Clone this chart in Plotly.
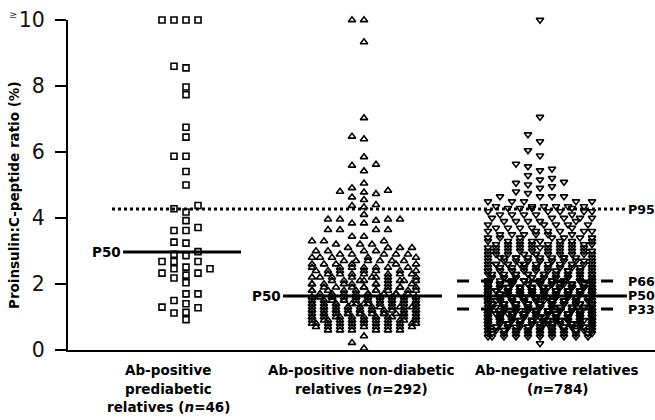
import plotly.graph_objects as go

# ---------------- data ----------------
categories = [
    ["Ab-positive", "prediabetic", "relatives (<i>n</i>=46)"],
    ["Ab-positive non-diabetic", "relatives (<i>n</i>=292)"],
    ["Ab-negative relatives", "(<i>n</i>=784)"],
]

# group 1: individual values (values >= 10 shown at 10)
g1_values = [10, 10, 10, 10, 8.6, 8.55, 7.97, 7.74, 6.75, 6.45, 5.87, 5.87,
             5.41, 5.0, 4.38, 4.28, 4.18, 3.92, 3.71, 3.62, 3.62, 3.27, 3.24,
             2.98, 2.90, 2.86, 2.68, 2.68, 2.68, 2.51, 2.46, 2.46, 2.33, 2.33,
             2.27, 2.18, 2.04, 1.70, 1.70, 1.50, 1.40, 1.30, 1.28, 1.12, 1.14,
             0.92]

# group 2: value levels and number of subjects at each level
g2_levels = [10.0, 9.33, 7.03, 6.47, 6.39, 5.85, 5.62, 5.59, 5.42, 5.05, 4.91,
             4.83, 4.80, 4.78, 4.73, 4.63, 4.55, 4.40, 4.37, 4.33, 4.10, 3.96,
             3.92, 3.84, 3.64, 3.44,
             3.3, 3.2, 3.1, 3.0, 2.9, 2.8, 2.7, 2.6, 2.5, 2.4, 2.3, 2.2, 2.1,
             2.0, 1.9, 1.8, 1.7, 1.6, 1.5, 1.4, 1.3, 1.2, 1.1, 1.0, 0.9, 0.8,
             0.7, 0.6, 0.42, 0.22, 0.05]
g2_counts = [2, 1, 1, 1, 1, 1, 1, 1, 1, 1, 1,
             1, 1, 1, 1, 1, 1, 1, 1, 1, 1, 4,
             1, 2, 4, 2,
             3, 3, 4, 4, 5, 5, 6, 6, 7, 7, 7, 8, 8,
             9, 9, 10, 10, 15, 15, 15, 15, 15, 15, 14, 13, 11,
             9, 6, 1, 1, 1]

# group 3: value levels and number of subjects at each level
g3_levels = [10.0, 7.06, 6.53, 6.32, 6.05, 5.89, 5.64, 5.56, 5.49, 5.44, 5.29,
             5.21, 5.16, 5.09, 5.06, 5.01, 4.96, 4.91, 4.80, 4.75, 4.65, 4.50,
             4.35, 4.30,
             4.2, 4.1, 4.0, 3.9, 3.8, 3.7, 3.6, 3.5, 3.4, 3.3, 3.2, 3.1, 3.0,
             2.9, 2.8, 2.7, 2.6, 2.5, 2.4, 2.3, 2.2, 2.1, 2.0, 1.9, 1.8, 1.7,
             1.6, 1.5, 1.4, 1.3, 1.2, 1.1, 1.0, 0.9, 0.8, 0.7, 0.6, 0.5, 0.4,
             0.2]
g3_counts = [1, 1, 1, 1, 1, 1, 1, 1, 1, 1, 1,
             1, 1, 1, 1, 1, 1, 1, 1, 1, 4, 5,
             6, 4,
             5, 5, 5, 5, 5, 5, 6, 6, 7, 8, 9, 10, 10,
             11, 12, 13, 14, 15, 16, 17, 18, 19, 30, 31, 32, 33,
             32, 33, 34, 34, 34, 36, 36, 36, 34, 30, 24, 18, 10,
             1]

# percentile lines
p50_values = [2.97, 1.64, 1.64]
p95_value = 4.27
p66_value = 2.09
p33_value = 1.24

# ---------------- layout geometry (pixels) ----------------
W, H = 655, 420
ML, MR, MT, MB = 68, 0, 20, 70
PW, PH = W - ML - MR, H - MT - MB
YMAX = 10.0
PPU = PH / YMAX
centers = [186, 364, 540]


def expand(levels, counts):
    out = []
    for v, c in zip(levels, counts):
        out += [v] * c
    return out


def swarm(vals, center, step=6.0, maxk=9, dxm=11.0, dym=7.0):
    placed = []
    res = [0.0] * len(vals)
    cand = sorted(range(-maxk, maxk + 1), key=lambda k: (abs(k), k))
    order = sorted(range(len(vals)), key=lambda i: vals[i])
    for i in order:
        y = vals[i] * PPU
        near = [(px, py) for px, py in placed if abs(py - y) < dym]
        best = None
        for k in cand:
            x = center + k * step
            if all(abs(px - x) >= dxm for px, py in near):
                best = x
                break
        if best is None:
            def penalty(k):
                x = center + k * step
                s = 0.0
                for px, py in near:
                    d = ((px - x) / dxm) ** 2 + ((py - y) / dym) ** 2
                    if d < 1:
                        s += 1 - d
                return s + 1e-3 * abs(k)
            best = center + min(cand, key=penalty) * step
        placed.append((best, y))
        res[i] = best
    return res


g2_values = expand(g2_levels, g2_counts)
g3_values = expand(g3_levels, g3_counts)

# (values, symbol, size, candidate step, number of steps each side)
groups = [
    (g1_values, "square-open", 6, 6.0, 5),
    (g2_values, "triangle-up-open", 6.5, 4.0, 13),
    (g3_values, "triangle-down-open", 6.5, 4.0, 13),
]

fig = go.Figure()
for (vals, sym, size, step, maxk), c in zip(groups, centers):
    xs = swarm(vals, c, step=step, maxk=maxk)
    fig.add_trace(go.Scatter(
        x=xs, y=vals, mode="markers", cliponaxis=False, hoverinfo="skip",
        marker=dict(symbol=sym, size=size, color="black",
                    line=dict(color="black", width=1.6)),
        showlegend=False))

BLK = "black"
shapes = []
p50_spans = [(123, 241), (283, 442), (457, 627)]
for (x0, x1), v in zip(p50_spans, p50_values):
    shapes.append(dict(type="line", xref="x", yref="y", x0=x0, x1=x1, y0=v, y1=v,
                       line=dict(color=BLK, width=3)))
shapes.append(dict(type="line", xref="x", yref="y", x0=112, x1=625,
                   y0=p95_value, y1=p95_value,
                   line=dict(color=BLK, width=3, dash="3px,3px")))
for v in (p66_value, p33_value):
    shapes.append(dict(type="line", xref="x", yref="y", x0=457, x1=615,
                       y0=v, y1=v, line=dict(color=BLK, width=3, dash="12px,12px")))

BOLD = "DejaVu Sans"
ann = []


def pxx(px):
    return (px - ML) / PW


def pxy(py):
    return (H - MB - py) / PH


# category labels, one annotation per line
label_x = [168, 361, 557]
line_y = [370, 388.5, 407]
for lines, x in zip(categories, label_x):
    for t, y in zip(lines, line_y):
        ann.append(dict(text="<b>" + t + "</b>", xref="paper", yref="paper",
                        x=pxx(x), y=pxy(y), xanchor="center", yanchor="middle",
                        showarrow=False, borderpad=0,
                        font=dict(family=BOLD, size=13.5, color=BLK)))
# percentile labels
for x, v in ((122, p50_values[0]), (282, p50_values[1])):
    ann.append(dict(text="<b>P50</b>", xref="x", yref="y", x=x, y=v,
                    xanchor="right", yanchor="middle", showarrow=False,
                    borderpad=0, font=dict(family=BOLD, size=13.5, color=BLK)))
for lab, v in (("P95", p95_value), ("P66", p66_value), ("P50", p50_values[2]),
               ("P33", p33_value)):
    ann.append(dict(text="<b>" + lab + "</b>", xref="paper", yref="y", x=1.0, y=v,
                    xanchor="right", yanchor="middle", showarrow=False,
                    borderpad=0, xshift=1,
                    font=dict(family=BOLD, size=12.6, color=BLK)))
# axis title
ann.append(dict(text="<b>Proinsulin:C-peptide ratio (%)</b>", xref="paper",
                yref="paper", x=pxx(14), y=pxy(195), textangle=-90,
                xanchor="center", yanchor="middle", showarrow=False,
                borderpad=0, font=dict(family=BOLD, size=13.5, color=BLK)))
# >= sign next to top tick
ann.append(dict(text="\u2265", xref="paper", yref="paper", x=pxx(13), y=pxy(14),
                xanchor="center", yanchor="middle", showarrow=False,
                font=dict(family="DejaVu Sans", size=10, color="#333")))

fig.update_layout(
    width=W, height=H, margin=dict(l=ML, r=MR, t=MT, b=MB),
    paper_bgcolor="white", plot_bgcolor="white",
    shapes=shapes, annotations=ann,
    xaxis=dict(range=[ML, W], showgrid=False, zeroline=False, showline=True,
               linecolor=BLK, linewidth=2, showticklabels=False, ticks=""),
    yaxis=dict(range=[0, YMAX], tickvals=[0, 2, 4, 6, 8, 10],
               ticktext=["0", "2", "4", "6", "8", "10"],
               showgrid=False, zeroline=False, showline=True, linecolor=BLK,
               linewidth=2, ticks="outside", ticklen=11, tickwidth=2,
               tickcolor=BLK, ticklabelstandoff=6,
               tickfont=dict(family="DejaVu Sans", size=20.5, color="#111")),
)

fig.write_html("out.html", config={"displayModeBar": False},
               post_script="document.body.style.margin='0';"
                           "document.body.style.overflow='hidden';")
